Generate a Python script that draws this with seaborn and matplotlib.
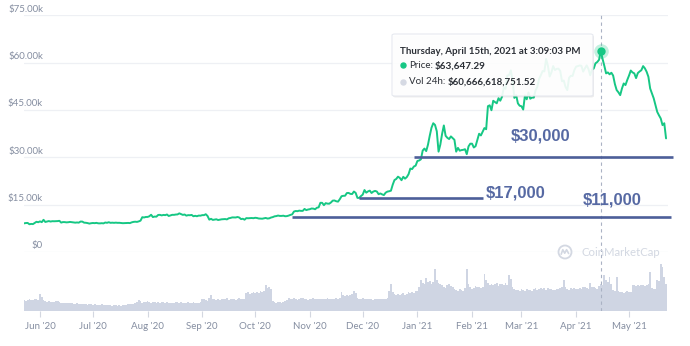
import matplotlib
matplotlib.use("Agg")
import matplotlib.pyplot as plt
import matplotlib.dates as mdates
import matplotlib.transforms as mtransforms
from matplotlib.patches import FancyBboxPatch, Circle
from matplotlib.lines import Line2D
import numpy as np
import pandas as pd
import seaborn as sns

# ---------------- data ----------------
start_date = "2020-05-23"

# daily BTC price (USD)
price = [
    9080, 9180, 9210, 8790, 8900, 8840, 9200, 9575, 9430,
    # Jun
    9700, 9460, 10200, 9520, 9660, 9800, 9650, 9760, 9740, 9770, 9790, 9880, 9320, 9480, 9470,
    9390, 9430, 9530, 9460, 9380, 9300, 9360, 9300, 9650, 9630, 9300, 9260, 9160, 9000, 9120,
    # Jul
    9190, 9140, 9230, 9090, 9070, 9130, 9070, 9340, 9250, 9430, 9240, 9290, 9240, 9300, 9240,
    9250, 9200, 9130, 9150, 9170, 9210, 9160, 9390, 9540, 9600, 9540, 9700, 9930, 11030, 10940, 11100,
    # Aug
    11110, 11320, 11800, 11070, 11230, 11190, 11740, 11770, 11600, 11750, 11680, 11880, 11410, 11580, 11780,
    11770, 11870, 11910, 12250, 11990, 11760, 11880, 11520, 11680, 11650, 11750, 11320, 11470, 11330, 11540, 11510,
    # Sep
    11680, 11680, 11970, 11410, 10250, 10510, 10170, 10280, 10370, 10130, 10240, 10360, 10400, 10440, 10330,
    10680, 10790, 10960, 10950, 10940, 11090, 10920, 10420, 10530, 10240, 10740, 10690, 10730, 10770, 10710,
    # Oct
    10840, 10780, 10620, 10570, 10550, 10670, 10790, 10600, 10670, 10920, 11060, 11300, 11380, 11550, 11430,
    11430, 11500, 11330, 11370, 11530, 11760, 11920, 12820, 12990, 12930, 13110, 13030, 13030, 13650, 13270, 13460,
    # Nov
    13560, 13780, 13740, 13550, 14020, 14150, 15590, 15580, 14830, 15480, 15330, 15300, 15700, 16280, 16320,
    16070, 15960, 16730, 17680, 17800, 17820, 18680, 18720, 18420, 18370, 19160, 18720, 17150, 17140, 17720,
    # Dec
    18180, 19630, 18800, 19200, 19440, 18700, 19150, 19360, 19170, 18320, 18550, 18260, 18040, 18800, 19140,
    19250, 19430, 21310, 22800, 23140, 23870, 23480, 22750, 23830, 23240, 23740, 24660, 26440, 26270, 27080, 27360,
    # Jan
    28840, 29000, 29370, 32130, 32780, 31970, 33990, 36820, 39370, 40800, 40250, 38240, 31800, 34010, 37390,
    40100, 36830, 36180, 35790, 36630, 36070, 35550, 31800, 32990, 32100, 32290, 32370, 32570, 31000, 33470, 34320,
    # Feb
    34320, 33110, 33540, 35510, 37470, 36930, 38140, 39270, 38900, 46200, 46480, 44920, 47910, 47500,
    47110, 48720, 47940, 49200, 52150, 51680, 55890, 56100, 57540, 54210, 48820, 49710, 47090, 46340,
    # Mar
    46190, 45140, 49630, 48380, 50540, 48560, 48930, 48910, 51210, 52300, 54820, 56000, 57330, 57230, 61190,
    59010, 55600, 56900, 58910, 57650, 58030, 58100, 57350, 54100, 54340, 52300, 51300, 55190, 55830, 55780, 57630,
    # Apr
    58730, 58920, 59100, 59000, 57160, 58190, 59130, 57990, 56010, 57800, 58130, 59790, 60200, 60900, 63647.29,
    61200, 59000, 56600, 56900, 56300, 56800, 55900, 53200, 51300, 50600, 49700, 51800, 53400, 52900, 54500,
    # May
    55900, 57500, 56900, 56600, 55100, 56700, 57200, 57600, 58900, 58200, 57100, 55500, 51800, 50300, 48700,
    46600, 44400, 43300, 42300, 40200, 40800, 36000,
]

# daily 24h volume (billions USD), one row per week
volume_bn = [
    24, 23, 25, 26, 24, 25, 27,
    26, 25, 38, 32, 24, 22, 21,
    22, 21, 20, 21, 22, 23, 21,
    18, 17, 19, 18, 17, 18, 17,
    16, 15, 17, 16, 15, 16, 15,
    15, 14, 15, 16, 14, 15, 14,
    14, 13, 15, 14, 14, 13, 14,
    13, 12, 14, 13, 12, 13, 12,
    13, 14, 13, 15, 16, 15, 16,
    18, 20, 24, 22, 19, 20, 21,
    22, 20, 19, 20, 21, 19, 20,
    19, 20, 21, 19, 20, 19, 18,
    19, 18, 20, 21, 19, 20, 18,
    18, 19, 20, 18, 19, 20, 19,
    19, 18, 20, 26, 28, 24, 22,
    30, 35, 28, 26, 25, 27, 24,
    26, 28, 27, 29, 25, 27, 26,
    27, 25, 28, 29, 26, 27, 28,
    40, 42, 38, 41, 43, 40, 42,
    41, 44, 43, 45, 58, 52, 54,
    50, 22, 20, 19, 21, 20, 19,
    20, 22, 25, 29, 27, 28, 30,
    27, 25, 28, 30, 29, 27, 26,
    25, 27, 28, 29, 27, 28, 26,
    27, 26, 28, 27, 29, 28, 27,
    26, 28, 29, 27, 30, 42, 35,
    33, 36, 34, 35, 38, 46, 40,
    30, 27, 28, 29, 26, 27, 28,
    26, 27, 25, 28, 27, 26, 28,
    26, 27, 28, 30, 45, 60, 42,
    38, 37, 39, 36, 38, 40, 37,
    38, 42, 40, 43, 41, 45, 44,
    55, 70, 62, 60, 75, 65, 68,
    60, 65, 95, 70, 62, 60, 58,
    55, 52, 58, 60, 57, 54, 50,
    47, 45, 50, 48, 46, 52, 94,
    60, 55, 50, 52, 56, 54, 53,
    52, 55, 83, 70, 62, 58, 60,
    58, 60, 62, 57, 61, 60, 59,
    62, 58, 80, 72, 55, 50, 48,
    48, 46, 50, 47, 45, 49, 48,
    47, 46, 50, 52, 48, 49, 51,
    50, 52, 48, 51, 49, 50, 47,
    48, 50, 49, 52, 53, 70, 55,
    50, 48, 51, 49, 52, 50, 49,
    51, 50, 53, 55, 52, 50, 63,
    53, 55, 52, 50, 56, 60.66661875152, 58,
    81, 70, 66, 76, 60, 48, 46,
    76, 44, 43, 42, 41, 43, 44,
    42, 43, 58, 59, 57, 58, 56,
    58, 59, 57, 58, 60, 88, 52,
    50, 49, 70, 68, 106, 100, 76,
    61,
]

hover_date = "2021-04-15"
hover_label = "Thursday, April 15th, 2021 at 3:09:03 PM"
price_ticks = [0, 15000, 30000, 45000, 60000, 75000]

# support levels: (value, start, end, label, label position)
levels = [
    (30000, "2020-12-30", "2021-05-26", "$30,000", ("2021-02-23", 36800)),
    (17000, "2020-11-29", "2021-02-07", "$17,000", ("2021-02-09", 18600)),
    (11000, "2020-10-22", "2021-05-25", "$11,000", ("2021-04-05", 16500)),
]

# ---------------- style ----------------
GREEN = "#16c784"
BAR = "#cfd5e3"
GRID = "#eef0f4"
LABEL = "#858ea1"
LEVEL_LINE = "#4d5f99"
LEVEL_TEXT = "#5669a3"

sns.set_theme(style="white")
plt.rcParams["font.family"] = ["Lato", "DejaVu Sans"]

W, H = 690, 346
fig = plt.figure(figsize=(W / 100, H / 100), dpi=100, facecolor="white")

# price panel (top) and volume panel (bottom)
ax = fig.add_axes([24 / W, 1 - 252 / H, 644 / W, (252 - 15.3) / H])
axv = fig.add_axes([24 / W, 1 - 311 / H, 644 / W, 59 / H])

dates = pd.date_range(start_date, periods=len(price), freq="D")
xnum = mdates.date2num(dates)
df = pd.DataFrame({"x": xnum, "price": price, "volume": volume_bn[: len(price)]})

jun1 = mdates.date2num(pd.Timestamp("2020-06-01"))
px_per_day = 1.7635
xlim = (jun1 - 16 / px_per_day, jun1 + 628 / px_per_day)

# ---- volume bars
sns.barplot(data=df, x="x", y="volume", native_scale=True, ax=axv,
            color=BAR, saturation=1, width=1.0, linewidth=0, errorbar=None)
axv.set_xlim(*xlim)
axv.set_ylim(0, 59 * 2.25)
axv.set_xlabel("")
axv.set_ylabel("")
axv.set_yticks([])
for s in axv.spines.values():
    s.set_visible(False)
axv.xaxis.set_major_locator(mdates.MonthLocator())
axv.xaxis.set_major_formatter(mdates.DateFormatter("%b '%y"))
axv.tick_params(axis="x", length=4, width=0.8, color="#d3d7e0", labelcolor=LABEL,
                labelsize=7, pad=4, bottom=True)
axv.patch.set_alpha(0)

# ---- price line
sns.lineplot(data=df, x="x", y="price", ax=ax, color=GREEN, linewidth=1.4, zorder=3)
ax.set_xlim(*xlim)
ax.set_ylim(0, 75000)
ax.set_xlabel("")
ax.set_ylabel("")
ax.set_xticks([])
ax.set_yticks(price_ticks)
ax.tick_params(axis="y", length=0, labelleft=False)
ax.grid(axis="y", color=GRID, linewidth=0.9)
ax.set_axisbelow(True)
for s in ax.spines.values():
    s.set_visible(False)
ax.patch.set_alpha(0)

ytrans = ax.get_yaxis_transform()
for t in price_ticks:
    ax.annotate(f"${t/1000:.2f}k" if t else "$0", xy=(19 / 644, t), xycoords=ytrans,
                xytext=(0, 1.2), textcoords="offset points", ha="right", va="bottom",
                fontsize=7, color=LABEL)

# ---- support levels
for val, d0, d1, text, (tx, ty) in levels:
    x0 = mdates.date2num(pd.Timestamp(d0))
    x1 = mdates.date2num(pd.Timestamp(d1))
    ax.plot([x0, x1], [val, val], color=LEVEL_LINE, linewidth=1.9,
            solid_capstyle="butt", clip_on=False, zorder=4)
    ax.text(mdates.date2num(pd.Timestamp(tx)), ty, text, ha="left", va="center",
            fontsize=12, fontweight="bold", color=LEVEL_TEXT,
            family=["Liberation Sans", "DejaVu Sans"], zorder=4)

# ---- hover marker + crosshair
hi = int(np.where(dates == pd.Timestamp(hover_date))[0][0])
hx, hy = xnum[hi], price[hi]
for a in (ax, axv):
    a.axvline(hx, color="#aab2c4", linewidth=0.8, linestyle=(0, (3, 3)), zorder=2)
ax.scatter([hx], [hy], s=110, color=GREEN, alpha=0.25, linewidth=0, zorder=5)
ax.scatter([hx], [hy], s=36, color=GREEN, linewidth=0, zorder=6)

# ---- tooltip
def fxy(px, py):
    return px / W, 1 - py / H

bx0, by0, bx1, by1 = 392, 34, 593, 96
shadow = FancyBboxPatch(fxy(bx0 + 1, by1 + 1.5), (bx1 - bx0) / W, (by1 - by0) / H,
                        boxstyle="round,pad=0,rounding_size=0.004",
                        transform=fig.transFigure, facecolor="#000000", alpha=0.07,
                        edgecolor="none", zorder=9)
box = FancyBboxPatch(fxy(bx0, by1), (bx1 - bx0) / W, (by1 - by0) / H,
                     boxstyle="round,pad=0,rounding_size=0.004",
                     transform=fig.transFigure, facecolor="white", alpha=0.91,
                     edgecolor="#e4e7ee", linewidth=0.8, zorder=10)
fig.add_artist(shadow)
fig.add_artist(box)

TT = "#2b2f36"
FS = 7.0
fig.text(*fxy(400.5, 51), hover_label, fontsize=FS, fontweight="bold",
         color=TT, va="center", zorder=11)
fig.add_artist(Line2D([403 / W], [1 - 65 / H], marker="o", markersize=3.6, color=GREEN,
                      linewidth=0, transform=fig.transFigure, zorder=11))
fig.text(*fxy(409, 65.5), "Price:", fontsize=FS, color=TT, va="center", zorder=11)
fig.text(*fxy(435, 65.5), f"${price[hi]:,.2f}", fontsize=FS + 0.2, fontweight="bold",
         color=TT, va="center", zorder=11)
fig.add_artist(Line2D([403 / W], [1 - 82 / H], marker="o", markersize=3.6, color="#d5d9e3",
                      linewidth=0, transform=fig.transFigure, zorder=11))
fig.text(*fxy(409, 82), "Vol 24h:", fontsize=FS, color=TT, va="center", zorder=11)
fig.text(*fxy(448, 82), f"${volume_bn[hi] * 1e9:,.2f}", fontsize=FS, fontweight="bold",
         color=TT, va="center", zorder=11)

# ---- watermark
WM = "#d3d8e2"
ident = mtransforms.IdentityTransform()
cx, cy = 565, H - 252
fig.add_artist(Circle((cx, cy), 6.5, transform=ident, facecolor="none",
                      edgecolor=WM, linewidth=1.3, zorder=1))
fig.add_artist(Line2D([cx - 3.8, cx - 2.2, cx - 0.3, cx + 1.6, cx + 3.6],
                      [cy - 2.2, cy + 2.3, cy - 1.2, cy + 2.3, cy - 1.5],
                      transform=ident, color=WM, linewidth=1.2, zorder=1))
fig.text(*fxy(582, 252), "CoinMarketCap", fontsize=8.2, color=WM, va="center", zorder=1)

fig.savefig("out.png", dpi=100, facecolor="white")
